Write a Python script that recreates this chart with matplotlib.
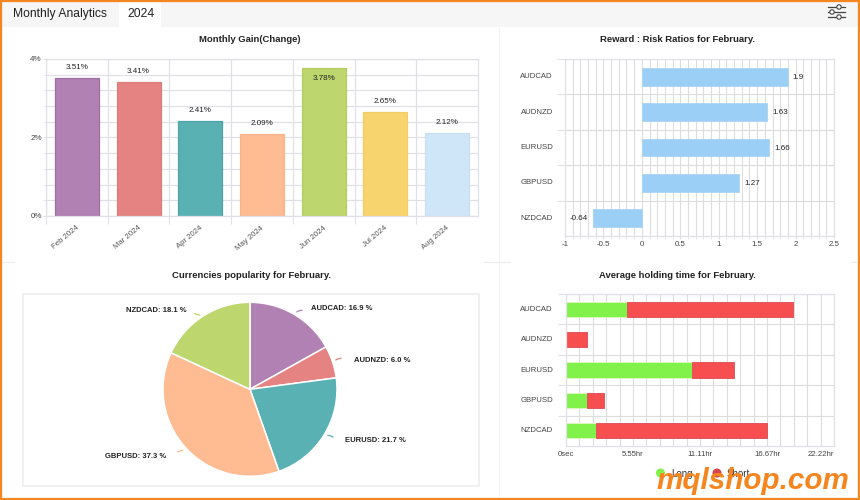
import matplotlib
matplotlib.use("Agg")
import matplotlib.pyplot as plt
import numpy as np
from matplotlib.patches import Rectangle, Circle
from matplotlib.ticker import MultipleLocator, FixedLocator, NullFormatter

plt.rcParams['font.family'] = ['Liberation Sans', 'DejaVu Sans']

months = ['Feb 2024', 'Mar 2024', 'Apr 2024', 'May 2024', 'Jun 2024', 'Jul 2024', 'Aug 2024']
gains = [3.51, 3.41, 2.41, 2.09, 3.78, 2.65, 2.12]
gain_colors = ['#b281b3', '#e48381', '#5ab1b4', '#ffbc92', '#bdd66d', '#f8d46e', '#cfe6f9']
gain_edges = ['#a06fa3', '#dc7c7c', '#4fa3a6', '#f5b48c', '#b4cc64', '#f2cc66', '#c8e0f4']

pairs = ['AUDCAD', 'AUDNZD', 'EURUSD', 'GBPUSD', 'NZDCAD']
ratios = [1.9, 1.63, 1.66, 1.27, -0.64]

pie_values = [16.9, 6.0, 21.7, 37.3, 18.1]
pie_colors = ['#b281b3', '#e48381', '#5ab1b4', '#ffbc92', '#bdd66d']
pie_label_px = [(342, 309), (382, 361), (375, 441), (136, 456), (156, 311)]

long_hours = [5.03, 0.0, 10.44, 1.71, 2.49]
short_hours = [13.75, 1.74, 3.51, 1.44, 14.2]
hour_ticks = [0, 5.555, 11.11, 16.665, 22.22]
hour_labels = ['0sec', '5.55hr', '11.11hr', '16.67hr', '22.22hr']

W, H = 860, 500
TXT = '#333333'
GRID = '#e0e0e6'
ORANGE = '#f5861f'

fig = plt.figure(figsize=(W / 100, H / 100), dpi=100, facecolor='white')


def px_axes(x0, y0, x1, y1, **kw):
    return fig.add_axes([x0 / W, 1 - y1 / H, (x1 - x0) / W, (y1 - y0) / H], **kw)


# page furniture
bg = px_axes(0, 0, W, H, zorder=0)
bg.set_xlim(0, W)
bg.set_ylim(H, 0)
bg.axis('off')
bg.add_patch(Rectangle((0, 0), W, 27, fc='#f6f6f6', ec='none'))
bg.add_patch(Rectangle((119, 2), 42, 25, fc='white', ec='none'))
bg.text(13, 14, 'Monthly Analytics', fontsize=8.7, color='#222222', va='center')
bg.text(127, 14, '2024', fontsize=8.7, color='#222222', va='center')
bg.plot([499, 499], [28, 500], color='#f2f2f2', lw=0.8)
for a, b in [(0, 14), (484, 510), (852, 860)]:
    bg.plot([a, b], [262, 262], color='#ececec', lw=0.8)
bg.add_patch(Rectangle((22.5, 294), 456, 191.5, fc='white', ec='#eeeeee', lw=1.2))
for yy, cx in [(7, 839), (12, 832), (17, 839)]:
    bg.plot([828, 845], [yy, yy], color='#444444', lw=0.9)
    bg.add_patch(Circle((cx, yy), 2.2, fc='white', ec='#444444', lw=0.8, zorder=3))

titles = [('Monthly Gain(Change)', 250, 40), ('Reward : Risk Ratios for February.', 678, 40),
          ('Currencies popularity for February.', 251, 275), ('Average holding time for February.', 677, 275)]
for t, x, y in titles:
    bg.text(x, y, t, fontsize=6.8, fontweight='bold', color='#222222', ha='center', va='center')


def style(ax):
    ax.set_facecolor('none')
    ax.set_axisbelow(True)
    for s in ax.spines.values():
        s.set_color(GRID)
        s.set_linewidth(0.9)


# monthly gain
ax1 = px_axes(46, 59, 478, 216)
style(ax1)
xs = np.arange(len(months))
ax1.bar(xs, gains, width=0.715, color=gain_colors, edgecolor=gain_edges, linewidth=0.9)
ax1.set_xlim(-0.5, len(months) - 0.5)
ax1.set_ylim(0, 4)
ax1.yaxis.set_major_locator(MultipleLocator(2))
ax1.yaxis.set_minor_locator(MultipleLocator(0.4))
ax1.yaxis.set_major_formatter(lambda v, p: f'{v:.0f}%')
ax1.xaxis.set_major_locator(FixedLocator(xs - 0.5))
ax1.xaxis.set_major_formatter(NullFormatter())
ax1.grid(True, which='both', color=GRID, lw=0.9)
ax1.tick_params(axis='x', length=6, color=GRID)
ax1.tick_params(axis='y', which='both', length=2, color=GRID, labelsize=5.8, labelcolor='#444444', pad=1)
for x, v, m in zip(xs, gains, months):
    y = v - 0.27 if v > 3.7 else v + 0.27
    ax1.text(x, y, f'{v:.2f}%', ha='center', va='center', fontsize=5.8, color='#222222')
    ax1.annotate(m, (x, 0), xytext=(1, -8), textcoords='offset points', rotation=40,
                 rotation_mode='anchor', ha='right', va='center', fontsize=5.6, color='#555555',
                 annotation_clip=False)

# reward : risk
ax2 = px_axes(565, 59, 834, 236)
style(ax2)
ys = np.arange(len(pairs))
ax2.barh(ys, ratios, height=0.5, color='#9ccff5', edgecolor='#a8d4f5', linewidth=0.6)
ax2.set_xlim(-1, 2.5)
ax2.set_ylim(len(pairs) - 0.5, -0.5)
ax2.xaxis.set_major_locator(MultipleLocator(0.5))
ax2.xaxis.set_minor_locator(MultipleLocator(0.1))
ax2.yaxis.set_major_locator(FixedLocator(ys - 0.5))
ax2.yaxis.set_major_formatter(NullFormatter())
ax2.xaxis.set_major_formatter(lambda v, p: f'{v:g}')
ax2.grid(True, which='both', axis='x', color='#dddddd', lw=0.8)
ax2.grid(True, which='major', axis='y', color='#dddddd', lw=0.8)
ax2.tick_params(axis='x', which='both', length=2, color=GRID, labelsize=5.7, labelcolor='#444444', pad=1.5)
ax2.tick_params(axis='y', length=6, color=GRID)
for y, v, p in zip(ys, ratios, pairs):
    ax2.annotate(f'{v:g}', (v, y), xytext=(3.5 if v > 0 else -3.5, -0.5), textcoords='offset points',
                 ha='left' if v > 0 else 'right', va='center', fontsize=5.8, color='#222222')
    ax2.annotate(p, (0, y), xycoords=('axes fraction', 'data'), xytext=(-8.6, 0), textcoords='offset points',
                 ha='right', va='center', fontsize=5.6, color='#444444', annotation_clip=False)

# pie
ax3 = px_axes(163, 302.3, 337, 476.3)
wedges, _ = ax3.pie(pie_values, colors=pie_colors, startangle=90, counterclock=False, radius=1,
                    wedgeprops=dict(edgecolor='white', linewidth=1.1))
ax3.set_xlim(-1, 1)
ax3.set_ylim(-1, 1)
for w, v, p, c, (lx, ly) in zip(wedges, pie_values, pairs, pie_colors, pie_label_px):
    mid = np.deg2rad((w.theta1 + w.theta2) / 2)
    tx, ty = (lx - 250) / 87, (389.3 - ly) / 87
    ex, ey = np.cos(mid), np.sin(mid)
    ax3.text(tx, ty, f'{p}: {v:.1f} %', ha='center', va='center', fontsize=5.5, fontweight='bold',
             color='#222222', clip_on=False)
    sgn = 1 if tx > ex else -1
    ax3.annotate('', xy=(ex * 1.01, ey * 1.01), xytext=(ex * 1.01 + sgn * 0.12, ey * 1.01 + 0.04 * np.sign(ey)),
                 arrowprops=dict(arrowstyle='-', color=c, lw=0.9, connectionstyle='arc3,rad=0.2'),
                 annotation_clip=False)

# holding time
ax4 = px_axes(566, 294, 834, 446)
style(ax4)
ax4.barh(ys, long_hours, height=0.5, color='#80f24a', edgecolor='#e9f5c8', linewidth=0.5)
ax4.barh(ys, short_hours, left=long_hours, height=0.5, color='#f74f4f', edgecolor='#d94a55', linewidth=0.6)
ax4.set_xlim(0, 22.22)
ax4.set_ylim(len(pairs) - 0.5, -0.5)
ax4.xaxis.set_major_locator(FixedLocator(hour_ticks))
ax4.xaxis.set_minor_locator(MultipleLocator(1.111))
ax4.xaxis.set_major_formatter(lambda v, p: hour_labels[p] if p is not None and p < len(hour_labels) else '')
ax4.yaxis.set_major_locator(FixedLocator(ys - 0.5))
ax4.yaxis.set_major_formatter(NullFormatter())
ax4.grid(True, which='both', axis='x', color='#dddddd', lw=0.8)
ax4.grid(True, which='major', axis='y', color='#dddddd', lw=0.8)
ax4.tick_params(axis='x', which='both', length=0, labelsize=5.6, labelcolor='#444444', pad=3.5)
ax4.tick_params(axis='y', length=6, color=GRID)
for y, p in zip(ys, pairs):
    ax4.annotate(p, (0, y), xycoords=('axes fraction', 'data'), xytext=(-9.4, 0), textcoords='offset points',
                 ha='right', va='center', fontsize=5.6, color='#444444', annotation_clip=False)
fig.canvas.draw()
ax4.get_xticklabels()[-1].set_ha('right')

# overlay: legend, watermark, frame
top = px_axes(0, 0, W, H, zorder=10)
top.set_xlim(0, W)
top.set_ylim(H, 0)
top.axis('off')
top.patch.set_alpha(0)
top.add_patch(Circle((660.5, 473), 4.5, fc='#80f24a', ec='none'))
top.text(671, 474, 'Long', fontsize=7, color='#333333', va='center')
top.add_patch(Circle((717, 473), 4.5, fc='#d9434f', ec='none'))
top.text(727, 474, 'Short', fontsize=7, color='#333333', va='center')
top.text(753, 481, 'mqlshop.com', fontsize=21.3, fontweight='bold', fontstyle='italic',
         color=ORANGE, ha='center', va='center')
top.add_patch(Rectangle((1, 1), W - 2, H - 2, fc='none', ec=ORANGE, lw=1.6))

fig.savefig('out.png', dpi=100)
